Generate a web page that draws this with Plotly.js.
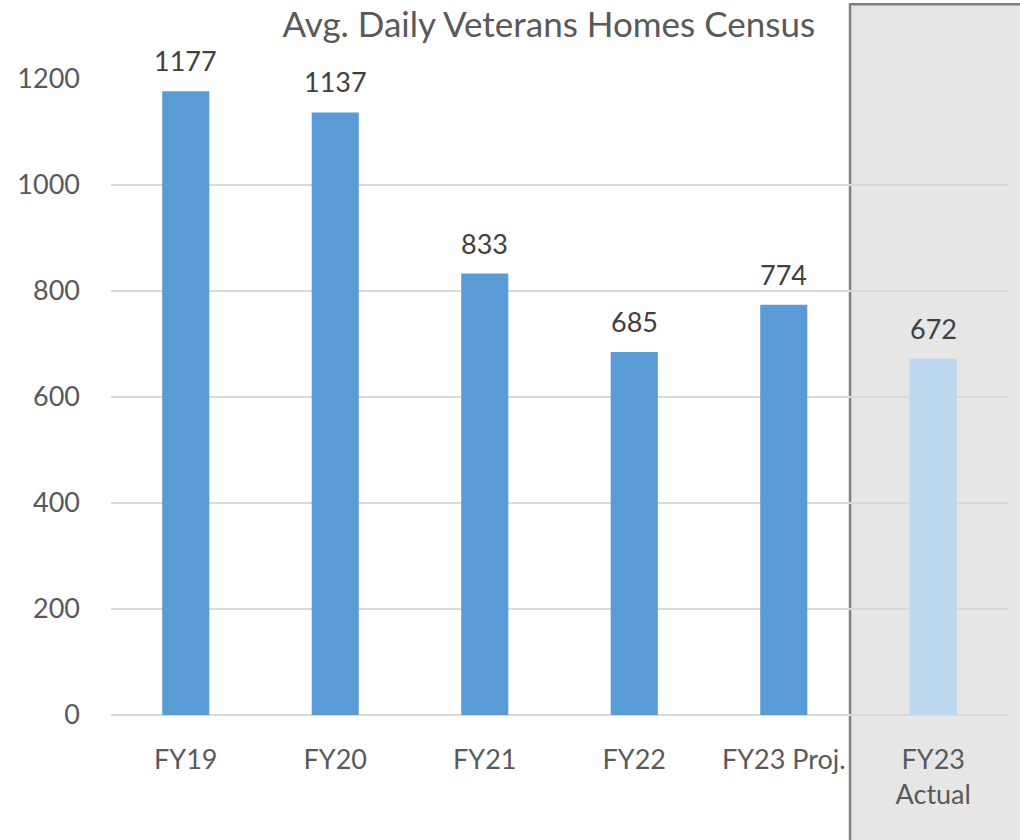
<!DOCTYPE html>
<html>
<head>
<meta charset="utf-8">
<script src="https://cdn.plot.ly/plotly-3.0.1.min.js"></script>
<style>html,body{margin:0;padding:0;background:#fff;}#chart{width:1020px;height:840px;}</style>
</head>
<body>
<div id="chart"></div>
<script>
const categories = ["FY19", "FY20", "FY21", "FY22", "FY23 Proj.", "FY23<br>Actual"];
const census = [1177, 1137, 833, 685, 774, 672];
const barColors = ["#5b9bd5", "#5b9bd5", "#5b9bd5", "#5b9bd5", "#5b9bd5", "#bdd7ee"];
const yTicks = [0, 200, 400, 600, 800, 1000, 1200];

const font = "Lato, 'Open Sans', sans-serif";

const trace = {
  type: "bar",
  x: categories,
  y: census,
  marker: {color: barColors, line: {width: 0}},
  hoverinfo: "skip"
};

const labels = categories.map((c, i) => ({
  x: c, y: census[i], xref: "x", yref: "y",
  text: String(census[i]),
  showarrow: false,
  yanchor: "bottom",
  yshift: 12,
  font: {family: font, size: 27, color: "#404040"}
}));

const layout = {
  width: 1020, height: 840,
  margin: {l: 111, r: 12, t: 79, b: 125},
  paper_bgcolor: "#ffffff",
  plot_bgcolor: "rgba(0,0,0,0)",
  bargap: 0.685,
  showlegend: false,
  title: {
    text: "Avg. Daily Veterans Homes Census",
    font: {family: font, size: 35, color: "#595959"},
    x: 0.538, xanchor: "center", y: 0.97, yanchor: "middle"
  },
  xaxis: {
    type: "category",
    showgrid: false,
    zeroline: false,
    showline: false,
    ticks: "",
    ticklabelstandoff: 26,
    tickfont: {family: font, size: 27, color: "#595959"}
  },
  yaxis: {
    range: [0, 1200],
    tickvals: yTicks,
    ticktext: yTicks.map(String),
    showgrid: true,
    gridcolor: "#d9d9d9",
    gridwidth: 1.5,
    zeroline: true,
    zerolinecolor: "#d9d9d9",
    zerolinewidth: 1.5,
    showline: false,
    ticks: "",
    ticklabelstandoff: 30,
    tickfont: {family: font, size: 27, color: "#595959"}
  },
  annotations: labels,
  shapes: [{
    type: "rect",
    xref: "paper", yref: "paper",
    x0: 0.8239, x1: 1.03,
    y0: -0.23, y1: 1.1175,
    fillcolor: "#e6e6e6",
    line: {color: "#7f7f7f", width: 2.5},
    layer: "below"
  }]
};

Plotly.newPlot("chart", [trace], layout, {displayModeBar: false, staticPlot: true});
</script>
</body>
</html>
